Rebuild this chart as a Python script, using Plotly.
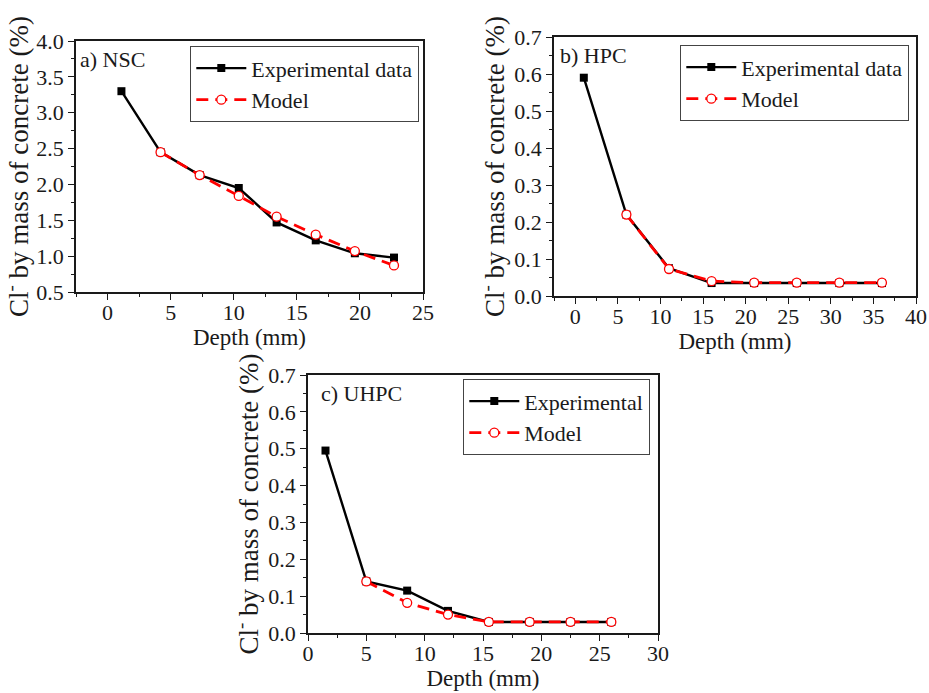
import plotly.graph_objects as go

# Panel a) NSC
a_exp_x = [1.1, 4.2, 7.3, 10.4, 13.4, 16.5, 19.6, 22.7]
a_exp_y = [3.30, 2.45, 2.13, 1.95, 1.47, 1.22, 1.04, 0.98]
a_mod_x = [4.2, 7.3, 10.4, 13.4, 16.5, 19.6, 22.7]
a_mod_y = [2.45, 2.13, 1.84, 1.55, 1.30, 1.07, 0.87]

# Panel b) HPC
b_exp_x = [1, 6, 11, 16, 21, 26, 31, 36]
b_exp_y = [0.59, 0.22, 0.075, 0.035, 0.035, 0.035, 0.035, 0.035]
b_mod_x = [6, 11, 16, 21, 26, 31, 36]
b_mod_y = [0.22, 0.073, 0.040, 0.036, 0.036, 0.036, 0.036]

# Panel c) UHPC
c_exp_x = [1.5, 5, 8.5, 12, 15.5, 19, 22.5, 26]
c_exp_y = [0.495, 0.14, 0.115, 0.060, 0.030, 0.030, 0.030, 0.030]
c_mod_x = [5, 8.5, 12, 15.5, 19, 22.5, 26]
c_mod_y = [0.14, 0.082, 0.050, 0.030, 0.030, 0.030, 0.030]

panel_labels = ["a) NSC", "b) HPC", "c) UHPC"]
exp_names = ["Experimental data", "Experimental data", "Experimental"]
model_name = "Model"

W, H = 929, 693
FONT = "Liberation Serif, Times New Roman, serif"
INK = "#1a1a1a"

fig = go.Figure()

panels = [
    dict(ex=a_exp_x, ey=a_exp_y, mx=a_mod_x, my=a_mod_y, xa="x", ya="y", lg="legend"),
    dict(ex=b_exp_x, ey=b_exp_y, mx=b_mod_x, my=b_mod_y, xa="x2", ya="y2", lg="legend2"),
    dict(ex=c_exp_x, ey=c_exp_y, mx=c_mod_x, my=c_mod_y, xa="x3", ya="y3", lg="legend3"),
]

for i, p in enumerate(panels):
    fig.add_trace(go.Scatter(
        x=p["ex"], y=p["ey"], xaxis=p["xa"], yaxis=p["ya"], legend=p["lg"],
        mode="lines+markers", name=exp_names[i],
        line=dict(color="black", width=2.4),
        marker=dict(symbol="square", size=8, color="black"),
    ))
    fig.add_trace(go.Scatter(
        x=p["mx"], y=p["my"], xaxis=p["xa"], yaxis=p["ya"], legend=p["lg"],
        mode="lines+markers", name=model_name,
        line=dict(color="red", width=2.8, dash="12px,7px"),
        marker=dict(symbol="circle", size=9, color="white",
                    line=dict(color="red", width=1.3)),
    ))

def px_dom(a, b):
    return [a / W, b / W]

def py_dom(top, bottom):
    return [1 - bottom / H, 1 - top / H]

tickfont = dict(family=FONT, size=22, color=INK)
titlefont = dict(family=FONT, size=23, color=INK)
ytitlefont = dict(family=FONT, size=27, color=INK)

def xaxis(dom, rng, dtick, anchor):
    return dict(domain=dom, range=rng, dtick=dtick, tick0=0, anchor=anchor, automargin=False,
                showline=True, linecolor=INK, linewidth=1.6, mirror=True,
                ticks="outside", ticklen=6, tickwidth=1.3, tickcolor=INK,
                ticklabelstandoff=-6,
                minor=dict(dtick=dtick / 2, ticks="outside", ticklen=3, tickcolor=INK),
                showgrid=False, zeroline=False, tickfont=tickfont,
                title=dict(text="Depth (mm)", font=titlefont, standoff=0))

def yaxis(dom, rng, dtick, anchor, fmt):
    return dict(domain=dom, range=rng, dtick=dtick, anchor=anchor, automargin=False,
                showline=True, linecolor=INK, linewidth=1.6, mirror=True,
                ticks="outside", ticklen=6, tickwidth=1.3, tickcolor=INK,
                minor=dict(dtick=dtick / 2, ticks="outside", ticklen=3, tickcolor=INK),
                showgrid=False, zeroline=False, tickfont=tickfont, tickformat=fmt,
                title=dict(text="Cl<sup>-</sup> by mass of concrete (%)", font=ytitlefont, standoff=2))

fig.update_layout(
    width=W, height=H,
    template="none",
    margin=dict(l=0, r=0, t=0, b=0, autoexpand=False),
    paper_bgcolor="white", plot_bgcolor="white",
    font=dict(family=FONT, color=INK),
    xaxis=xaxis(px_dom(76, 423), [-2.5, 25], 5, "y"),
    yaxis=yaxis(py_dom(41, 292), [0.5, 4.0], 0.5, "x", ".1f"),
    xaxis2=xaxis(px_dom(554, 916), [-2.5, 40], 5, "y2"),
    yaxis2=yaxis(py_dom(37, 296), [0, 0.7], 0.1, "x2", ".1f"),
    xaxis3=xaxis(px_dom(308, 658), [0, 30], 5, "y3"),
    yaxis3=yaxis(py_dom(375, 633), [0, 0.7], 0.1, "x3", ".1f"),
)

legend_common = dict(bgcolor="white", bordercolor="#444", borderwidth=1.3,
                     font=dict(family=FONT, size=22, color=INK),
                     xanchor="right", yanchor="top", tracegroupgap=0, itemwidth=50)
fig.update_layout(
    legend=dict(x=419 / W, y=1 - 46 / H, **legend_common),
    legend2=dict(x=909 / W, y=1 - 45 / H, **legend_common),
    legend3=dict(x=650 / W, y=1 - 379 / H, **legend_common),
)

label_pos = [("x domain", "y domain", 0.005, 0.985),
             ("x2 domain", "y2 domain", 0.01, 0.985),
             ("x3 domain", "y3 domain", 0.03, 0.985)]
for lab, (xr, yr, x, y) in zip(panel_labels, label_pos):
    fig.add_annotation(text=lab, xref=xr, yref=yr, x=x, y=y, xanchor="left", yanchor="top",
                       showarrow=False, font=dict(family=FONT, size=22, color=INK))

fig.write_html("out.html")
